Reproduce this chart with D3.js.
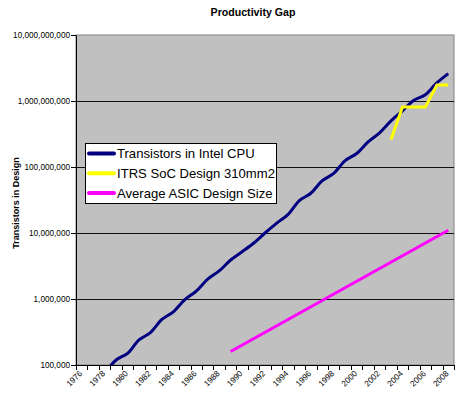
<!DOCTYPE html>
<html>
<head>
<meta charset="utf-8">
<script src="https://cdn.jsdelivr.net/npm/d3@7"></script>
<style>
  body { margin: 0; background: #fff; }
  text { font-family: Arial, "Liberation Sans", sans-serif; }
</style>
</head>
<body>
<div id="graph"></div>
<script>
// years on the category axis
const years = d3.range(1976, 2009);

// Transistors in Intel CPU
const cpuYears = [1978, 1979, 1980, 1981, 1982, 1983, 1984, 1985, 1986, 1987, 1988, 1989, 1990,
  1991, 1992, 1993, 1994, 1995, 1996, 1997, 1998, 1999, 2000, 2001, 2002, 2003, 2004, 2005,
  2006, 2007, 2008];
const cpuValues = [75000, 119000, 150000, 240000, 310000, 490000, 640000, 980000, 1320000,
  2000000, 2660000, 3900000, 5200000, 7000000, 10000000, 14000000, 19000000, 31000000,
  40000000, 62000000, 80000000, 125000000, 160000000, 240000000, 330000000, 500000000,
  710000000, 1030000000, 1240000000, 1880000000, 2600000000];

// ITRS SoC Design 310mm2
const itrsYears = [2003, 2004, 2005, 2006, 2007, 2008];
const itrsValues = [260000000, 810000000, 810000000, 810000000, 1740000000, 1740000000];

// Average ASIC Design Size
const asicYears = [1989, 2008];
const asicValues = [160000, 11000000];

const yTicks = [1e5, 1e6, 1e7, 1e8, 1e9, 1e10];
const seriesNames = ["Transistors in Intel CPU", "ITRS SoC Design 310mm2", "Average ASIC Design Size"];
const seriesColors = ["#000080", "#ffff00", "#ff00ff"];

const width = 460;
const height = 394;
const marginLeft = 76;
const marginRight = 6;
const marginTop = 35;
const marginBottom = 29;

const xScale = d3.scaleBand(years, [marginLeft, width - marginRight]);
const yScale = d3.scaleLog([1e5, 1e10], [height - marginBottom, marginTop]);
const cx = (yr) => xScale(yr) + xScale.bandwidth() / 2;

const svg = d3
  .select("#graph")
  .append("svg")
  .attr("width", width)
  .attr("height", height)
  .attr("viewBox", [0, 0, width, height]);

svg.append("clipPath")
  .attr("id", "plot")
  .append("rect")
  .attr("x", marginLeft)
  .attr("y", marginTop)
  .attr("width", width - marginLeft - marginRight)
  .attr("height", height - marginTop - marginBottom);

// plot area
svg.append("rect")
  .attr("x", marginLeft)
  .attr("y", marginTop)
  .attr("width", width - marginLeft - marginRight)
  .attr("height", height - marginTop - marginBottom)
  .attr("fill", "#c0c0c0")
  .attr("stroke", "#808080")
  .attr("stroke-width", 1);

// gridlines
svg.append("g")
  .selectAll("line")
  .data(yTicks.slice(1, -1))
  .join("line")
  .attr("x1", marginLeft)
  .attr("x2", width - marginRight)
  .attr("y1", (d) => Math.round(yScale(d)) + 0.5)
  .attr("y2", (d) => Math.round(yScale(d)) + 0.5)
  .attr("stroke", "#111");

// y axis
const yAxis = d3.axisLeft(yScale)
  .tickValues(yTicks)
  .tickSize(5)
  .tickSizeOuter(0)
  .tickFormat(d3.format(","));

svg.append("g")
  .attr("transform", `translate(${marginLeft},0)`)
  .call(yAxis)
  .call((g) => g.select(".domain").attr("stroke", "#000"))
  .call((g) => g.selectAll(".tick line").attr("stroke", "#000"))
  .call((g) => g.selectAll(".tick text")
    .attr("x", -6)
    .attr("font-size", 8.2)
    .attr("font-family", "Arial, 'Liberation Sans', sans-serif")
    .attr("fill", "#000"));

// x axis: ticks at category boundaries, labels every second year
const xg = svg.append("g");
xg.append("line")
  .attr("x1", marginLeft)
  .attr("x2", width - marginRight)
  .attr("y1", height - marginBottom + 0.5)
  .attr("y2", height - marginBottom + 0.5)
  .attr("stroke", "#000");
xg.selectAll(".xt")
  .data(years.concat([null]))
  .join("line")
  .attr("class", "xt")
  .attr("x1", (d) => Math.round(d === null ? width - marginRight : xScale(d)) + 0.5)
  .attr("x2", (d) => Math.round(d === null ? width - marginRight : xScale(d)) + 0.5)
  .attr("y1", height - marginBottom)
  .attr("y2", height - marginBottom + 5)
  .attr("stroke", "#000");
xg.selectAll("text")
  .data(years.filter((d) => d % 2 === 0))
  .join("text")
  .attr("transform", (d) => `translate(${cx(d) + 1},${height - marginBottom + 9}) rotate(-45)`)
  .attr("text-anchor", "end")
  .attr("font-size", 8.2)
  .text((d) => d);

// series
const lineGroup = svg.append("g").attr("clip-path", "url(#plot)").attr("fill", "none");

const smooth = d3.line()
  .x((d) => cx(d[0]))
  .y((d) => yScale(d[1]))
  .curve(d3.curveCatmullRom.alpha(0.5));
const straight = d3.line()
  .x((d) => cx(d[0]))
  .y((d) => yScale(d[1]));

lineGroup.append("path")
  .attr("d", straight(d3.zip(asicYears, asicValues)))
  .attr("stroke", seriesColors[2])
  .attr("stroke-width", 3);

lineGroup.append("path")
  .attr("d", smooth(d3.zip(cpuYears, cpuValues)))
  .attr("stroke", seriesColors[0])
  .attr("stroke-width", 3)
  .attr("stroke-linejoin", "round");

lineGroup.append("path")
  .attr("d", straight(d3.zip(itrsYears, itrsValues)))
  .attr("stroke", seriesColors[1])
  .attr("stroke-width", 3);

// title
svg.append("text")
  .attr("x", 253)
  .attr("y", 16)
  .attr("text-anchor", "middle")
  .attr("font-size", 10.6)
  .attr("font-weight", "bold")
  .text("Productivity Gap");

svg.append("text")
  .attr("transform", "translate(19,203) rotate(-90)")
  .attr("text-anchor", "middle")
  .attr("font-size", 9)
  .attr("font-weight", "bold")
  .text("Transistors in Design");

// legend
const legend = svg.append("g").attr("transform", "translate(85,143)");
legend.append("rect")
  .attr("x", 0.5)
  .attr("y", 0.5)
  .attr("width", 191)
  .attr("height", 60)
  .attr("fill", "#fff")
  .attr("stroke", "#000");
const item = legend.selectAll(".item")
  .data(seriesNames)
  .join("g")
  .attr("class", "item")
  .attr("transform", (d, i) => `translate(0,${10.5 + i * 19.7})`);
item.append("line")
  .attr("x1", 4)
  .attr("x2", 29)
  .attr("stroke", (d, i) => seriesColors[i])
  .attr("stroke-width", 4)
  .attr("stroke-linecap", "round");
item.append("text")
  .attr("x", 32)
  .attr("y", 4.6)
  .attr("font-size", 13.1)
  .text((d) => d);
</script>
</body>
</html>
